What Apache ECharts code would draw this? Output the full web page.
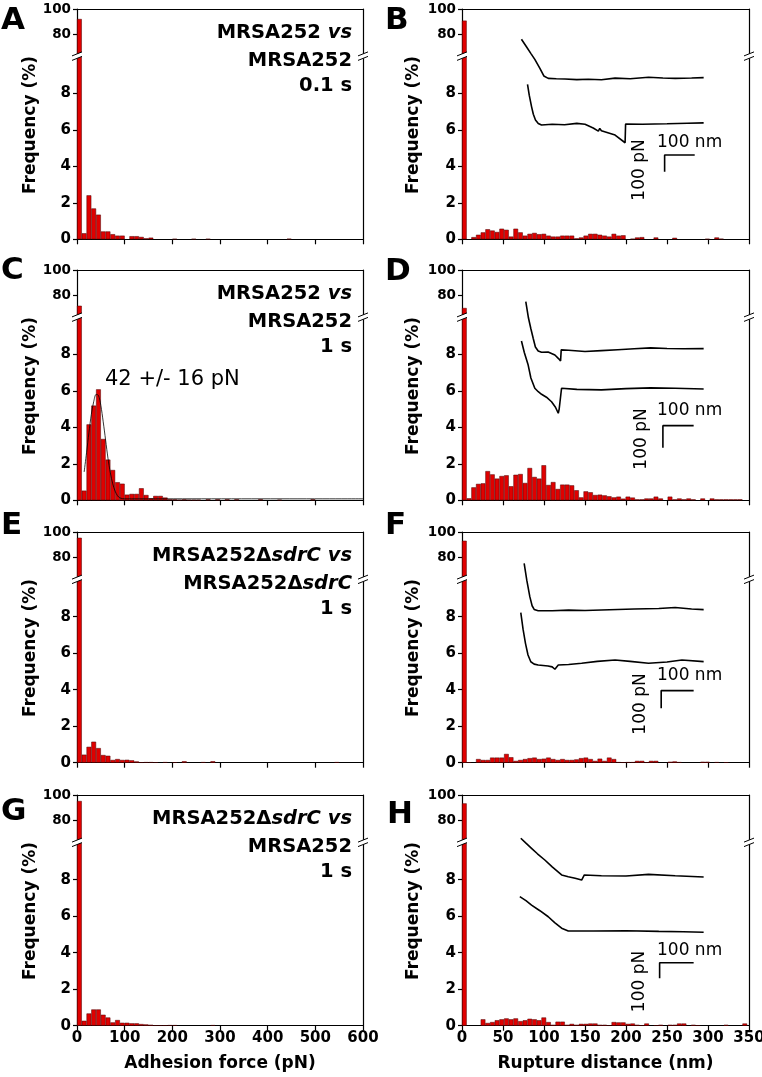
<!DOCTYPE html>
<html><head><meta charset="utf-8">
<script src="https://cdn.jsdelivr.net/npm/echarts@6.0.0/dist/echarts.min.js"></script>
<style>html,body{margin:0;padding:0;background:#fff}#c{width:762px;height:1077px}</style>
</head><body><div id="c"></div>
<script>
// ---------------- DATA ----------------
const forceTicks = [0,100,200,300,400,500,600];
const distTicks = [0,50,100,150,200,250,300,350];
const upperTicks = [80,100];
const lowerTicks = [0,2,4,6,8];
const forceBin = 10;   // pN
const distBin = 5.7;   // nm

// Adhesion force histograms (% per 10 pN bin, bins start at 0)
const histA = [92,0.33,2.41,1.69,1.35,0.43,0.43,0.28,0.2,0.2, 0,0.17,0.17,0.13,0.05,0.09,0,0,0,0, 0.02,0,0,0,0.02,0,0,0.02,0,0, 0,0,0,0,0,0,0,0,0,0, 0,0,0,0,0.03,0,0,0,0,0, 0,0,0,0,0,0,0,0,0,0];
const histC = [71.4,0.53,4.16,5.19,6.08,3.36,2.23,1.66,0.99,0.91, 0.31,0.35,0.35,0.66,0.29,0.11,0.24,0.24,0.15,0.05, 0.05,0.03,0.05,0.03,0.03,0.03,0,0.05,0,0.05, 0,0.05,0,0.05,0,0,0,0,0.05,0, 0,0,0.03,0,0,0,0,0,0,0.05, 0,0,0,0,0,0,0,0,0,0];
const histE = [95.4,0.44,0.87,1.15,0.8,0.42,0.38,0.15,0.2,0.15, 0.16,0.13,0.07,0.02,0.03,0.03,0.02,0,0.03,0, 0.02,0,0.08,0,0,0,0.03,0,0.08,0, 0,0,0,0,0,0,0,0,0,0, 0,0,0,0,0,0,0,0,0,0, 0,0,0,0,0.03,0,0,0,0,0];
const histG = [95.2,0.27,0.67,0.89,0.89,0.6,0.45,0.18,0.31,0.16, 0.16,0.13,0.13,0.09,0.07,0.05,0.02,0.02,0.02,0.03, 0.03,0,0,0,0,0,0,0,0.03,0, 0,0,0,0,0,0,0,0,0,0, 0,0,0,0,0,0,0,0,0,0, 0,0,0,0,0,0,0,0,0,0];
// Gaussian fit curve in C
const fitC = [[15,1.55],[20,2.6],[25,3.7],[30,4.7],[35,5.4],[40,5.8],[45,5.75],[50,5.2],[55,4.3],[60,3.3],[65,2.3],[70,1.5],[75,0.9],[80,0.5],[85,0.25],[90,0.13],[100,0.08],[600,0.08]];

// Rupture distance histograms (% per 5.7 nm bin)
const histB = [90.7,0,0.12,0.25,0.38,0.55,0.48,0.4,0.58,0.52, 0.15,0.58,0.38,0.2,0.3,0.35,0.28,0.3,0.2,0.15, 0.15,0.2,0.2,0.2,0.05,0.1,0.2,0.3,0.3,0.25, 0.2,0.15,0.3,0.2,0.22,0,0.03,0.1,0.12,0, 0,0.1,0,0,0,0.08,0,0,0,0, 0,0,0.02,0,0.1,0.03,0,0,0,0,0];
const histD = [69.6,0.11,0.71,0.9,0.93,1.6,1.42,1.19,1.33,1.37, 0.77,1.4,1.44,0.95,1.77,1.28,1.19,1.92,0.84,1.0, 0.62,0.86,0.86,0.82,0.55,0.16,0.49,0.44,0.29,0.31, 0.27,0.22,0.16,0.2,0.09,0.2,0.15,0.05,0.05,0.1, 0.1,0.2,0.1,0,0.2,0.05,0.1,0.05,0.1,0.05, 0,0.1,0,0.1,0.05,0.05,0.05,0.05,0.05,0.05,0];
const histF = [93,0.02,0,0.2,0.15,0.15,0.28,0.28,0.28,0.48, 0.3,0.1,0.15,0.2,0.25,0.28,0.2,0.22,0.28,0.2, 0.15,0.2,0.15,0.15,0.18,0.25,0.28,0.2,0.1,0.22, 0.1,0.28,0.2,0.03,0.02,0.03,0.03,0.1,0.1,0.02, 0.1,0.1,0,0,0.05,0.07,0.03,0,0,0, 0,0.05,0.05,0,0.03,0,0.02,0,0,0,0];
const histH = [93.3,0,0,0,0.35,0.15,0.2,0.3,0.35,0.4, 0.35,0.4,0.25,0.3,0.38,0.35,0.3,0.45,0.2,0.05, 0.22,0.22,0.05,0.1,0.05,0.1,0.1,0.12,0.12,0.05, 0.05,0.02,0.2,0.18,0.18,0.1,0.12,0.05,0.02,0.12, 0,0.02,0.05,0,0.05,0.05,0.12,0.12,0,0.05, 0.02,0,0,0,0,0,0.05,0,0,0,0.12];

// Force-distance traces drawn inside B, D, F, H (x in nm of the histogram axis, y in % units)
const traceB1 = [[72.5,10.96],[78.6,10.55],[83.9,10.19],[88.8,9.86],[95,9.37],[99.8,8.95],[105.2,8.82],[115,8.8],[125.6,8.78],[140,8.75],[154.1,8.77],[170,8.74],[186.7,8.83],[205,8.8],[227.5,8.88],[245,8.84],[260.1,8.82],[280,8.84],[294.7,8.86]];
const traceB2 = [[79.9,8.49],[82,7.9],[84.8,7.27],[87,6.85],[89.6,6.54],[93,6.35],[97,6.26],[110,6.3],[125,6.28],[140,6.35],[150,6.3],[160,6.1],[166.3,5.93],[168,6.08],[170,5.95],[186.7,5.71],[198.9,5.29],[199.5,6.32],[220,6.3],[250,6.33],[275,6.36],[294.7,6.38]];
const traceD1 = [[77.8,10.88],[81,10.0],[84,9.4],[86.8,8.88],[89.5,8.4],[92.9,8.18],[97,8.11],[105,8.13],[113.3,7.96],[118,7.75],[120.2,7.63],[121,8.24],[130,8.22],[150,8.15],[170,8.2],[190,8.25],[210,8.3],[230,8.35],[250,8.32],[270,8.3],[294.7,8.31]];
const traceD2 = [[72.5,8.73],[76,8.1],[80.7,7.41],[84,6.7],[88.8,6.14],[93,5.95],[97,5.81],[103,5.65],[109.2,5.4],[114,5.1],[117.4,4.77],[118.5,5.0],[121.4,6.14],[140,6.08],[170,6.05],[200,6.12],[230,6.16],[260,6.14],[294.7,6.1]];
const traceF1 = [[75.8,10.92],[79,10.0],[82.7,9.1],[85.5,8.6],[88,8.4],[92.9,8.33],[110,8.33],[130,8.36],[150,8.34],[180,8.38],[210,8.42],[240,8.45],[260,8.5],[280,8.42],[294.7,8.39]];
const traceF2 = [[71.7,8.22],[74.5,7.3],[77.4,6.54],[80.5,5.9],[83.9,5.53],[88,5.4],[92.9,5.35],[105,5.3],[110,5.25],[113.3,5.12],[117.4,5.35],[130,5.38],[145.9,5.45],[165,5.55],[186.7,5.63],[205,5.55],[227.5,5.45],[250,5.52],[268.2,5.63],[294.7,5.54]];
const traceH1 = [[71.7,10.27],[78,10.0],[84.8,9.72],[92,9.42],[101,9.08],[110,8.7],[121.5,8.26],[129.6,8.16],[138,8.08],[145.9,7.98],[148,7.89],[149.2,8.26],[170,8.22],[200,8.2],[227.5,8.29],[260,8.22],[294.7,8.15]];
const traceH2 = [[70.5,7.07],[78,6.85],[84.8,6.61],[95,6.3],[105.2,5.97],[113,5.65],[121.5,5.34],[129.6,5.19],[160,5.19],[200,5.2],[240,5.17],[270,5.15],[294.7,5.12]];
// Scale bars (100 nm / 100 pN) in the same axis units
const scaleB = [[283.8,4.62],[247.1,4.62],[247.1,3.70]];
const scaleD = [[282.5,4.09],[245,4.09],[245,2.88]];
const scaleF = [[282.5,3.95],[242.9,3.95],[242.9,2.98]];
const scaleH = [[282.5,3.45],[241,3.45],[241,2.60]];

// ---------------- LAYOUT ----------------
const FONT = '"DejaVu Sans", sans-serif';
const cols = [{l:77, r:363}, {l:462, r:749}];
const rows = [{t:9,b:239.3},{t:270,b:500.3},{t:532,b:762.7},{t:795,b:1025.7}];
const UP = {min:64, max:100, h:45};
const LO = {min:0, max:10, h:182.5};
const RED = '#e00000', EDGE = '#4a0000';

const panels = [
  {L:'A', c:0, r:0, kind:'f', hist:histA, title:['{b|MRSA252 }{i|vs}','{b|MRSA252}','{b|0.1 s}'], fit:null},
  {L:'B', c:1, r:0, kind:'d', hist:histB, traces:[traceB1,traceB2], scale:scaleB, nm:[657,142.3], pn:[640,170]},
  {L:'C', c:0, r:1, kind:'f', hist:histC, title:['{b|MRSA252 }{i|vs}','{b|MRSA252}','{b|1 s}'], fit:fitC},
  {L:'D', c:1, r:1, kind:'d', hist:histD, traces:[traceD1,traceD2], scale:scaleD, nm:[657,410.7], pn:[641.5,439]},
  {L:'E', c:0, r:2, kind:'f', hist:histE, title:['{b|MRSA252Δ}{i|sdrC vs}','{b|MRSA252Δ}{i|sdrC}','{b|1 s}'], fit:null},
  {L:'F', c:1, r:2, kind:'d', hist:histF, traces:[traceF1,traceF2], scale:scaleF, nm:[657,675.7], pn:[641,704]},
  {L:'G', c:0, r:3, kind:'f', hist:histG, title:['{b|MRSA252Δ}{i|sdrC vs}','{b|MRSA252}','{b|1 s}'], fit:null},
  {L:'H', c:1, r:3, kind:'d', hist:histH, traces:[traceH1,traceH2], scale:scaleH, nm:[657,950.7], pn:[640,981.5]}
];
const letterPos = {A:[1,21],B:[385,21],C:[1,271],D:[385,271.5],E:[1,526],F:[385,526],G:[1,812],H:[387,815]};

const grid=[], xAxis=[], yAxis=[], series=[], graphic=[];
const lineStyle = {color:'#000', width:1.2};
const tickLabel = {color:'#000', fontFamily:FONT, fontWeight:'bold', fontSize:15};

panels.forEach((p,i)=>{
  const col = cols[p.c], row = rows[p.r];
  const w = col.r - col.l;
  const isF = p.kind==='f';
  const xmax = isF ? 600 : 350;
  const bin = isF ? forceBin : distBin;
  const xticks = isF ? forceTicks : distTicks;
  const bottomRow = p.r===3;
  grid.push({left:col.l, width:w, top:row.t, height:UP.h, outerBoundsMode:'none', containLabel:false});
  grid.push({left:col.l, width:w, top:row.b-LO.h, height:LO.h, outerBoundsMode:'none', containLabel:false});
  xAxis.push({gridIndex:2*i, type:'value', min:0, max:xmax, interval:xticks[1], position:'top',
    axisLine:{show:true, onZero:false, lineStyle}, axisTick:{show:false}, axisLabel:{show:false}, splitLine:{show:false}});
  xAxis.push({gridIndex:2*i+1, type:'value', min:0, max:xmax, interval:xticks[1], position:'bottom',
    axisLine:{show:true, onZero:false, lineStyle}, axisTick:{show:true, inside:false, length:5, lineStyle},
    axisLabel:{show:bottomRow, margin:5, ...tickLabel}, splitLine:{show:false}});
  // y axes: upper-left, upper-right, lower-left, lower-right
  yAxis.push({gridIndex:2*i, type:'value', min:UP.min, max:UP.max, position:'left',
    axisLine:{show:true, lineStyle}, axisTick:{show:true, length:4, lineStyle, customValues:upperTicks},
    axisLabel:{show:true, margin:6, customValues:upperTicks, ...tickLabel, fontSize:13.5}, splitLine:{show:false}});
  yAxis.push({gridIndex:2*i, type:'value', min:UP.min, max:UP.max, position:'right',
    axisLine:{show:true, lineStyle}, axisTick:{show:false}, axisLabel:{show:false}, splitLine:{show:false}});
  yAxis.push({gridIndex:2*i+1, type:'value', min:LO.min, max:LO.max, position:'left',
    axisLine:{show:true, lineStyle}, axisTick:{show:true, length:4, lineStyle, customValues:lowerTicks},
    axisLabel:{show:true, margin:6, customValues:lowerTicks, ...tickLabel}, splitLine:{show:false}});
  yAxis.push({gridIndex:2*i+1, type:'value', min:LO.min, max:LO.max, position:'right',
    axisLine:{show:true, lineStyle}, axisTick:{show:false}, axisLabel:{show:false}, splitLine:{show:false}});

  const data = [];
  p.hist.forEach((v,k)=>{ if(v>0) data.push([k*bin + bin/2, v]); });
  const bw = w / xmax * bin;
  const barCommon = {type:'bar', barWidth:bw, barGap:'-100%', clip:true, silent:true,
    itemStyle:{color:RED, borderColor:EDGE, borderWidth:0.5}, data};
  series.push({...barCommon, xAxisIndex:2*i, yAxisIndex:4*i});
  series.push({...barCommon, xAxisIndex:2*i+1, yAxisIndex:4*i+2});

  if (p.fit) series.push({type:'line', xAxisIndex:2*i+1, yAxisIndex:4*i+2, data:p.fit, smooth:0.3,
    symbol:'none', lineStyle:{color:'#000', width:0.8}, z:5, silent:true});
  if (p.traces) {
    p.traces.forEach(tr=>series.push({type:'line', xAxisIndex:2*i+1, yAxisIndex:4*i+2, data:tr, clip:false,
      symbol:'none', lineStyle:{color:'#000', width:1.6}, z:5, silent:true}));
    series.push({type:'line', xAxisIndex:2*i+1, yAxisIndex:4*i+2, data:p.scale, clip:false,
      symbol:'none', lineStyle:{color:'#000', width:1.6}, z:5, silent:true});
    graphic.push({type:'text', x:p.nm[0], y:p.nm[1], z:50, style:{text:'100 nm', font:'17px '+FONT, fill:'#000', align:'left', verticalAlign:'middle'}});
    graphic.push({type:'text', x:p.pn[0], y:p.pn[1], rotation:Math.PI/2, z:50, style:{text:'100 pN', font:'17px '+FONT, fill:'#000', align:'center', verticalAlign:'middle'}});
  }
  if (p.title) {
    const ys = [24.1, 51.8, 77.4];
    p.title.forEach((t,k)=>graphic.push({type:'text', x:352, y:row.t+ys[k], z:50, style:{text:t, align:'right', verticalAlign:'middle',
      rich:{b:{fontFamily:FONT, fontWeight:'bold', fontSize:19.5, fill:'#000'}, i:{fontFamily:FONT, fontWeight:'bold', fontStyle:'italic', fontSize:19.5, fill:'#000'}}}}));
  }
  // panel letter
  const lp = letterPos[p.L];
  graphic.push({type:'text', x:lp[0], y:lp[1], z:50, style:{text:p.L, font:'bold 31px '+FONT, fill:'#000', align:'left', verticalAlign:'middle'}});
  // y-axis name
  graphic.push({type:'text', x: p.c===0 ? 31 : 414, y: row.t+116, rotation:Math.PI/2, z:50,
    style:{text:'Frequency (%)', font:'bold 17px '+FONT, fill:'#000', align:'center', verticalAlign:'middle'}});
  // axis break marks
  const yb = row.t + UP.h + (row.b - LO.h - row.t - UP.h)/2;
  [col.l, col.r].forEach(xb=>{
    graphic.push({type:'polygon', z:60, shape:{points:[[xb-5,yb+0.5],[xb+5,yb-3.5],[xb+5,yb+1],[xb-5,yb+5]]}, style:{fill:'#fff'}});
    graphic.push({type:'line', z:61, shape:{x1:xb-5,y1:yb+0.5,x2:xb+5,y2:yb-3.5}, style:{stroke:'#000', lineWidth:1}});
    graphic.push({type:'line', z:61, shape:{x1:xb-5,y1:yb+5,x2:xb+5,y2:yb+1}, style:{stroke:'#000', lineWidth:1}});
  });
});

graphic.push({type:'text', x:105, y:379.4, z:50, style:{text:'42 +/- 16 pN', font:'21px '+FONT, fill:'#000', align:'left', verticalAlign:'middle'}});
graphic.push({type:'text', x:220, y:1064, z:50, style:{text:'Adhesion force (pN)', font:'bold 17px '+FONT, fill:'#000', align:'center', verticalAlign:'middle'}});
graphic.push({type:'text', x:605.5, y:1064, z:50, style:{text:'Rupture distance (nm)', font:'bold 17px '+FONT, fill:'#000', align:'center', verticalAlign:'middle'}});

const chart = echarts.init(document.getElementById('c'), null, {renderer:'canvas', width:762, height:1077});
chart.setOption({animation:false, backgroundColor:'#fff', grid, xAxis, yAxis, series, graphic});
</script></body></html>
